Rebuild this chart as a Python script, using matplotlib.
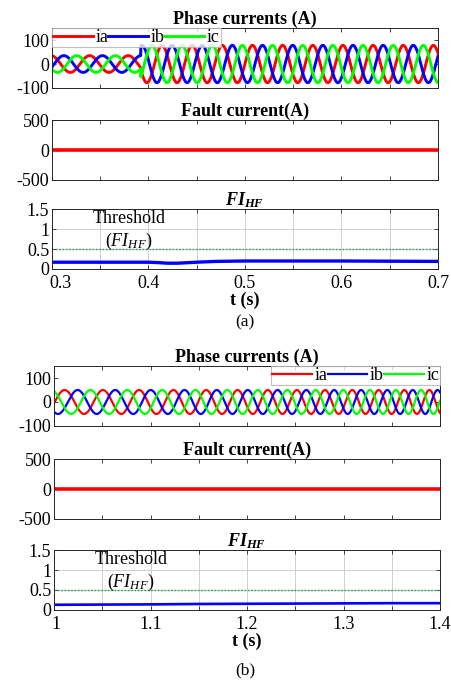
import numpy as np
import matplotlib.pyplot as plt
import matplotlib.transforms as mtransforms

plt.rcParams['font.family'] = 'Liberation Serif'
plt.rcParams['mathtext.fontset'] = 'custom'
plt.rcParams['mathtext.rm'] = 'Liberation Serif'
plt.rcParams['mathtext.it'] = 'Liberation Serif:italic'
plt.rcParams['mathtext.bf'] = 'Liberation Serif:bold'
plt.rcParams['mathtext.bfit'] = 'Liberation Serif:bold:italic'
plt.rcParams['axes.unicode_minus'] = False

#------ values ------
# (a) phase currents: before / after the fault
fault_time_a = 0.392
amp_a = [35, 78]          # A
freq_a = [25, 32]         # Hz
crest_a = [0.379, 0.414]  # s, one crest of ia in each part
# (b) phase currents: frequency ramps across the window
amp_b = 50
freq_b = [24, 39.5]       # Hz at 1.0 s and 1.4 s
crest_b = 1.011

# fault current (flat at zero)
fault_t_a = [0.3, 0.7]
fault_i_a = [0, 0]
fault_t_b = [1.0, 1.4]
fault_i_b = [0, 0]

# FI_HF index
fi_t_a = [0.3, 0.35, 0.4, 0.41, 0.42, 0.43, 0.45, 0.47, 0.5, 0.55, 0.6, 0.65, 0.7]
fi_a = [0.17, 0.17, 0.17, 0.16, 0.145, 0.145, 0.17, 0.19, 0.2, 0.2, 0.2, 0.195, 0.19]
fi_t_b = [1.0, 1.05, 1.1, 1.15, 1.2, 1.25, 1.3, 1.35, 1.4]
fi_b = [0.13, 0.135, 0.14, 0.15, 0.155, 0.16, 0.165, 0.17, 0.17]
threshold = 0.5

phase_labels = ['ia', 'ib', 'ic']
phase_colors = ['red', 'blue', 'lime']
fi_ticks = [0, 0.5, 1, 1.5]
fi_ticklabels = ['0', '0.5', '1', '1.5']


def three_phase(theta, amp):
    return [amp*np.sin(theta), amp*np.sin(theta - 2*np.pi/3), amp*np.sin(theta + 2*np.pi/3)]


#phase angles
t_a = np.linspace(0.3, 0.7, 4001)
th_pre = np.pi/2 + 2*np.pi*freq_a[0]*(t_a - crest_a[0])
th_post = np.pi/2 + 2*np.pi*freq_a[1]*(t_a - crest_a[1])
pre = three_phase(th_pre, amp_a[0])
post = three_phase(th_post, amp_a[1])
i_a = [np.where(t_a < fault_time_a, p, q) for p, q in zip(pre, post)]

t_b = np.linspace(1.0, 1.4, 4001)
k = (freq_b[1] - freq_b[0])/(t_b[-1] - t_b[0])
cyc = freq_b[0]*(t_b - 1.0) + 0.5*k*(t_b - 1.0)**2
cyc0 = freq_b[0]*(crest_b - 1.0) + 0.5*k*(crest_b - 1.0)**2
i_b = three_phase(np.pi/2 + 2*np.pi*(cyc - cyc0), amp_b)

FS = 13
frame = '#262626'


def style(ax, x0, x1, labels):
    ticks = np.round(np.arange(x0, x1 + 0.001, 0.05), 2)
    ax.set_xlim(x0, x1)
    ax.set_xticks(ticks)
    if labels:
        ax.set_xticklabels(['%g' % v if round(v*10) == v*10 else '' for v in ticks])
    else:
        ax.set_xticklabels([])
    ax.tick_params(direction='in', top=True, right=True, length=3, width=0.6,
                   labelsize=FS, colors=frame, labelcolor='black', pad=2)
    ax.tick_params(axis='x', pad=4)
    for s in ax.spines.values():
        s.set_color(frame)
        s.set_linewidth(0.7)


fig = plt.figure(figsize=(4.52, 6.81), dpi=100)

panels = [
    (t_a, i_a, fault_t_a, fault_i_a, fi_t_a, fi_a, 0.3, 0.7, 0.115, [0.8708, 0.7357, 0.605], 'upper left', 2.1, 0.38, '(a)', 0.526),
    (t_b, i_b, fault_t_b, fault_i_b, fi_t_b, fi_b, 1.0, 1.4, 0.1195, [0.3745, 0.2379, 0.1043], 'upper right', 1.6, 1.08, '(b)', 0.016),
]

for (t, cur, ft, fv, fit, fiv, x0, x1, left, bots, loc, lw, tx, tag, tag_y) in panels:
    h = 0.088
    w = 0.854
    #phase currents
    ax1 = fig.add_axes([left, bots[0], w, h])
    for y, c, lab in zip(cur, phase_colors, phase_labels):
        ax1.plot(t, y, color=c, lw=lw, label=lab)
    ax1.set_ylim(-100, 150)
    ax1.set_yticks([-100, 0, 100])
    style(ax1, x0, x1, False)
    ax1.set_title('Phase currents (A)', fontsize=FS, fontweight='bold', pad=3)
    leg = ax1.legend(loc=loc, ncol=3, fontsize=FS, frameon=True, fancybox=False,
                     borderaxespad=0, borderpad=0.05, handlelength=2.2,
                     handletextpad=0.15, columnspacing=0.0, labelspacing=0)
    leg.get_frame().set_edgecolor('#b0b0b0')
    leg.get_frame().set_linewidth(0.8)

    #fault current
    ax2 = fig.add_axes([left, bots[1], w, h])
    ax2.plot(ft, fv, color='red', lw=2.6)
    ax2.set_ylim(-500, 500)
    ax2.set_yticks([-500, 0, 500])
    style(ax2, x0, x1, False)
    ax2.set_title('Fault current(A)', fontsize=FS, fontweight='bold', pad=3)

    #FI_HF
    ax3 = fig.add_axes([left, bots[2], w, h])
    ax3.plot(fit, fiv, color='blue', lw=lw + 0.3)
    ax3.axhline(threshold, color='#2e9e5b', lw=1.0, ls=(0, (1.2, 1.2)))
    ax3.set_ylim(0, 1.5)
    ax3.set_yticks(fi_ticks)
    ax3.set_yticklabels(fi_ticklabels)
    ax3.grid(True, color='#cfcfcf', lw=0.7)
    ax3.set_axisbelow(True)
    style(ax3, x0, x1, True)
    # first x label sits just right of the corner, clear of the "0"
    first = ax3.get_xticklabels()[0]
    first.set_ha('left')
    first.set_transform(first.get_transform() +
                        mtransforms.ScaledTranslation(-2/72, 0, fig.dpi_scale_trans))
    ax3.set_title(r'$\mathbfit{FI}_{\mathbfit{HF}}$', fontsize=FS, pad=3)
    ax3.text(tx, 1.27, 'Threshold', fontsize=FS, ha='center', va='center')
    ax3.text(tx, 0.68, r'$(FI_{HF})$', fontsize=FS, ha='center', va='center')
    ax3.set_xlabel('t (s)', fontsize=FS, fontweight='bold', labelpad=0)

    fig.text(0.542, tag_y, tag, fontsize=12.5, ha='center', va='center')

fig.savefig('out.png', dpi=100)
